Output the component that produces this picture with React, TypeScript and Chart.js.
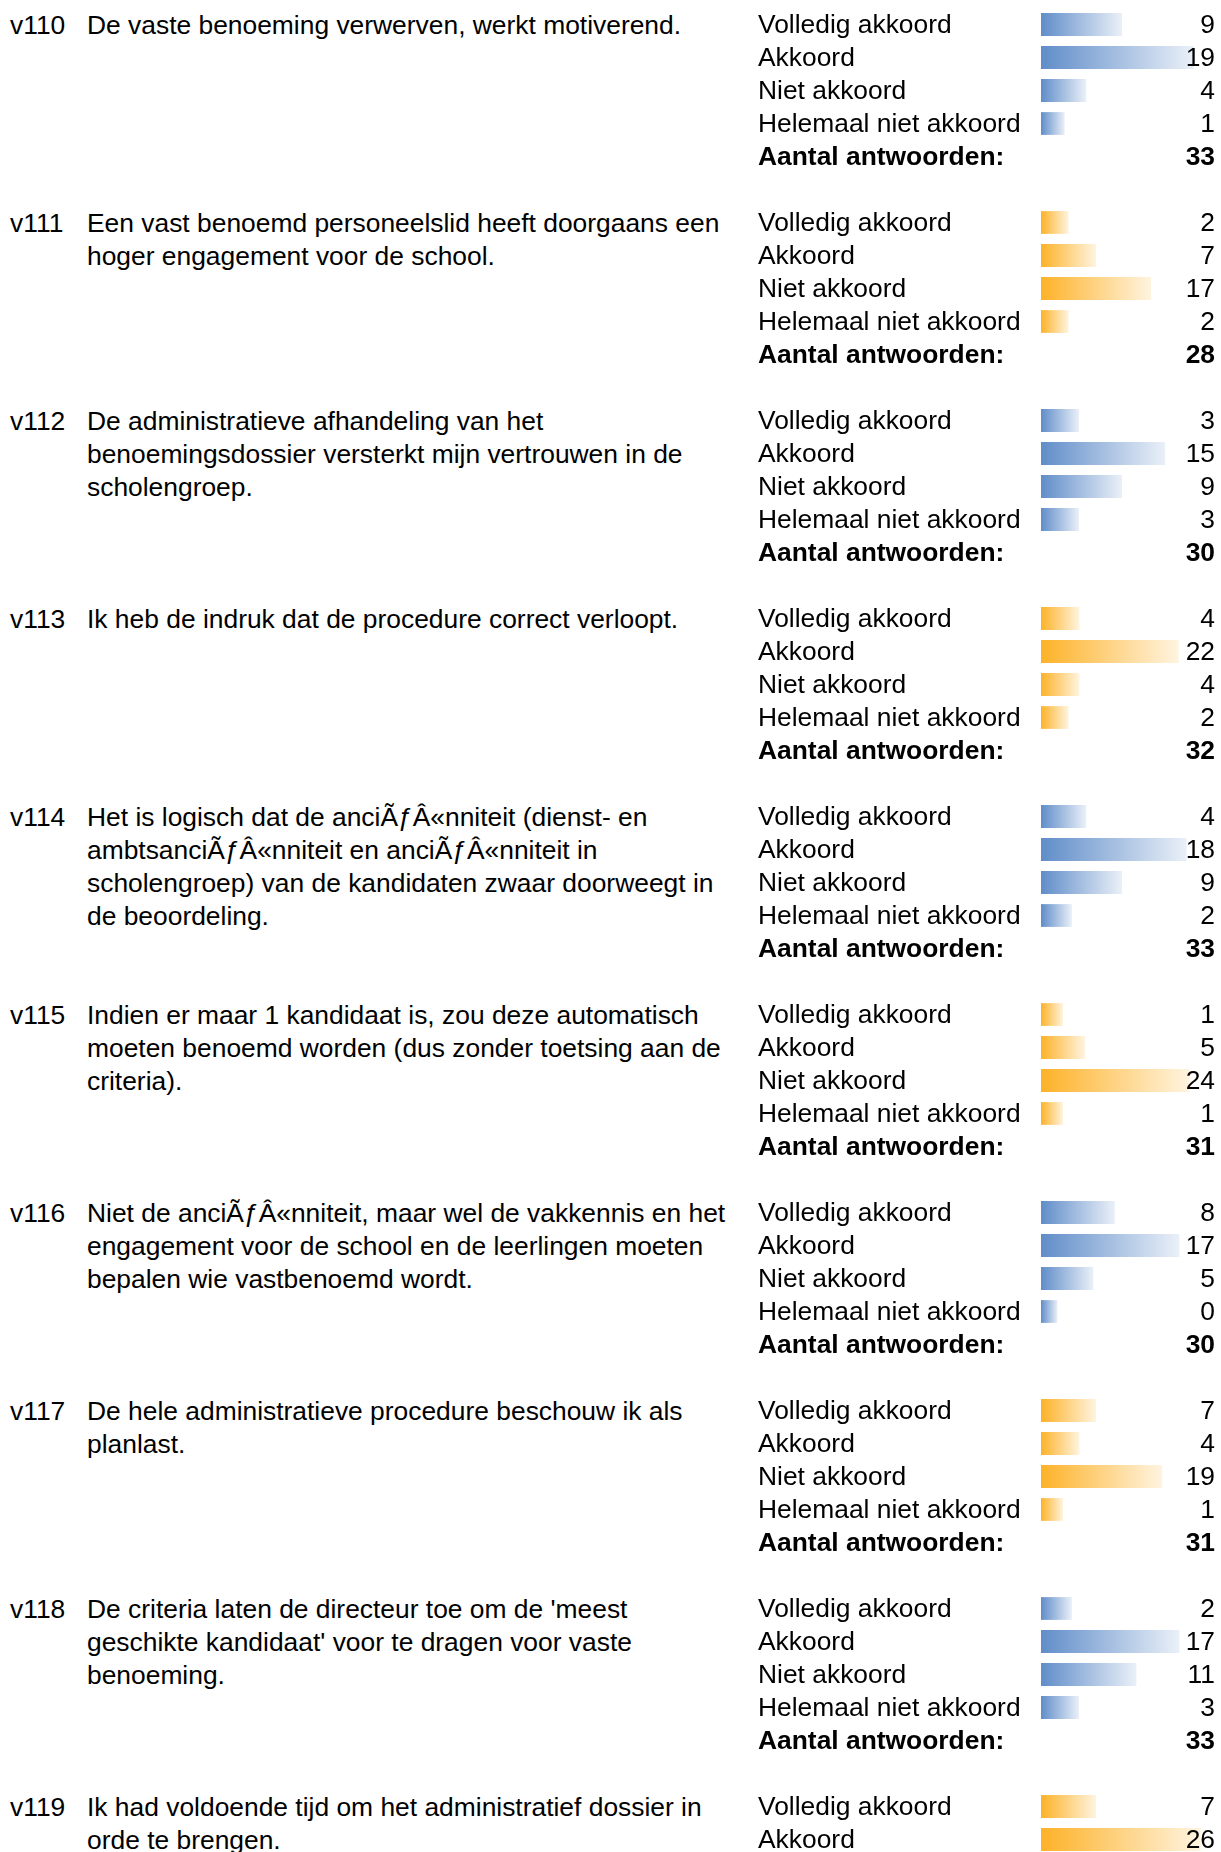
import React, { useEffect, useRef } from 'react';
import { Chart, registerables } from 'chart.js';

Chart.register(...registerables);

const FONT = '"Liberation Sans", Arial, Helvetica, sans-serif';
const FONT_SIZE = 26.4;

const RESPONSE_LABELS = ['Volledig akkoord', 'Akkoord', 'Niet akkoord', 'Helemaal niet akkoord'];
const TOTAL_LABEL = 'Aantal antwoorden:';

const QUESTION_CODES = ['v110', 'v111', 'v112', 'v113', 'v114', 'v115', 'v116', 'v117', 'v118', 'v119'];

const QUESTION_TEXTS: string[][] = [
  ['De vaste benoeming verwerven, werkt motiverend.'],
  ['Een vast benoemd personeelslid heeft doorgaans een', 'hoger engagement voor de school.'],
  ['De administratieve afhandeling van het', 'benoemingsdossier versterkt mijn vertrouwen in de', 'scholengroep.'],
  ['Ik heb de indruk dat de procedure correct verloopt.'],
  [
    'Het is logisch dat de anciÃƒÂ«nniteit (dienst- en',
    'ambtsanciÃƒÂ«nniteit en anciÃƒÂ«nniteit in',
    'scholengroep) van de kandidaten zwaar doorweegt in',
    'de beoordeling.',
  ],
  [
    'Indien er maar 1 kandidaat is, zou deze automatisch',
    'moeten benoemd worden (dus zonder toetsing aan de',
    'criteria).',
  ],
  [
    'Niet de anciÃƒÂ«nniteit, maar wel de vakkennis en het',
    'engagement voor de school en de leerlingen moeten',
    'bepalen wie vastbenoemd wordt.',
  ],
  ['De hele administratieve procedure beschouw ik als', 'planlast.'],
  ["De criteria laten de directeur toe om de 'meest", "geschikte kandidaat' voor te dragen voor vaste", 'benoeming.'],
  ['Ik had voldoende tijd om het administratief dossier in', 'orde te brengen.'],
];

// Answer counts per question: Volledig akkoord, Akkoord, Niet akkoord, Helemaal niet akkoord
const V110 = [9, 19, 4, 1];
const V111 = [2, 7, 17, 2];
const V112 = [3, 15, 9, 3];
const V113 = [4, 22, 4, 2];
const V114 = [4, 18, 9, 2];
const V115 = [1, 5, 24, 1];
const V116 = [8, 17, 5, 0];
const V117 = [7, 4, 19, 1];
const V118 = [2, 17, 11, 3];
const V119 = [7, 26, null, null];
const ANSWERS: (number | null)[][] = [V110, V111, V112, V113, V114, V115, V116, V117, V118, V119];

const TOTALS: (number | null)[] = [33, 28, 30, 32, 33, 31, 30, 31, 33, null];

const BLUE = { start: 'rgb(96,141,201)', end: 'rgb(234,240,248)' };
const ORANGE = { start: 'rgb(253,178,40)', end: 'rgb(255,244,224)' };
const BLUE_AXIS = { min: -2.3, max: 22.8 };
const ORANGE_AXIS = { min: -3.0, max: 29.7 };

const ROW_H = 33;
const BLOCK_H = 198;
const LABEL_X = 758;
const BAR_X = 1041;
const CANVAS_W = 1221 - LABEL_X;
const CANVAS_H = 165;

const valuePlugin = {
  id: 'valueLabels',
  afterDatasetsDraw(chart: any, _args: any, opts: any) {
    const { ctx } = chart;
    const ys = chart.scales.y;
    const vals: (number | null)[] = opts.values || [];
    const total: number | null = opts.total;
    ctx.save();
    ctx.fillStyle = '#000';
    ctx.textAlign = 'right';
    ctx.textBaseline = 'middle';
    const xr = chart.width - 6;
    vals.forEach((v, i) => {
      if (v == null) return;
      ctx.font = `normal ${FONT_SIZE}px ${FONT}`;
      ctx.fillText(String(v), xr, ys.getPixelForValue(i) + 1);
    });
    if (total != null) {
      ctx.font = `bold ${FONT_SIZE}px ${FONT}`;
      ctx.fillText(String(total), xr, ys.getPixelForValue(vals.length) + 1);
    }
    ctx.restore();
  },
};

function Block({ index }: { index: number }) {
  const ref = useRef<HTMLCanvasElement | null>(null);
  useEffect(() => {
    const canvas = ref.current;
    if (!canvas) return;
    const isBlue = index % 2 === 0;
    const colors = isBlue ? BLUE : ORANGE;
    const axis = isBlue ? BLUE_AXIS : ORANGE_AXIS;
    const values = ANSWERS[index];
    const labels = [...RESPONSE_LABELS, TOTAL_LABEL];
    const chart = new Chart(canvas, {
      type: 'bar',
      data: {
        labels,
        datasets: [
          {
            data: [...values, null],
            base: axis.min,
            barPercentage: 0.69,
            categoryPercentage: 1,
            borderWidth: 0,
            backgroundColor: (c: any) => {
              const ch = c.chart;
              const xs = ch.scales && ch.scales.x;
              if (!xs || c.raw == null) return colors.start;
              const x0 = xs.getPixelForValue(axis.min);
              const x1 = xs.getPixelForValue(c.raw);
              if (!isFinite(x0) || !isFinite(x1) || x1 <= x0) return colors.start;
              const g = ch.ctx.createLinearGradient(x0, 0, x1, 0);
              g.addColorStop(0, colors.start);
              g.addColorStop(1, colors.end);
              return g;
            },
          } as any,
        ],
      },
      options: {
        indexAxis: 'y',
        responsive: false,
        animation: false,
        devicePixelRatio: 1,
        layout: { padding: 0 },
        plugins: {
          legend: { display: false },
          tooltip: { enabled: false },
          valueLabels: { values, total: TOTALS[index] },
        } as any,
        scales: {
          x: { type: 'linear', min: axis.min, max: axis.max, display: false },
          y: {
            type: 'category',
            grid: { display: false },
            border: { display: false },
            afterFit: (scale: any) => {
              scale.width = BAR_X - LABEL_X;
              scale.paddingTop = 0;
              scale.paddingBottom = 0;
            },
            ticks: {
              autoSkip: false,
              crossAlign: 'far',
              color: '#000',
              padding: 0,
              labelOffset: 1,
              font: (c: any) => ({
                family: FONT,
                size: FONT_SIZE,
                lineHeight: 1,
                weight: c.index === RESPONSE_LABELS.length ? 'bold' : 'normal',
              }),
            },
          },
        },
      } as any,
      plugins: [valuePlugin],
    });
    return () => chart.destroy();
  }, [index]);

  const top = 8 + index * BLOCK_H;
  const textStyle: React.CSSProperties = {
    position: 'absolute',
    top: top + 0.5,
    fontFamily: FONT,
    fontSize: FONT_SIZE,
    lineHeight: `${ROW_H}px`,
    color: '#000',
    whiteSpace: 'nowrap',
  };
  return (
    <>
      <div style={{ ...textStyle, left: 10 }}>{QUESTION_CODES[index]}</div>
      <div style={{ ...textStyle, left: 87 }}>
        {QUESTION_TEXTS[index].map((line, i) => (
          <div key={i}>{line}</div>
        ))}
      </div>
      <canvas
        ref={ref}
        width={CANVAS_W}
        height={CANVAS_H}
        style={{ position: 'absolute', left: LABEL_X, top: Math.round(top), width: CANVAS_W, height: CANVAS_H }}
      />
    </>
  );
}

export default function App() {
  return (
    <div
      style={{
        position: 'absolute',
        left: 0,
        top: 0,
        width: 1221,
        height: 1852,
        overflow: 'hidden',
        background: '#fff',
      }}
    >
      {QUESTION_CODES.map((_, i) => (
        <Block key={i} index={i} />
      ))}
    </div>
  );
}
